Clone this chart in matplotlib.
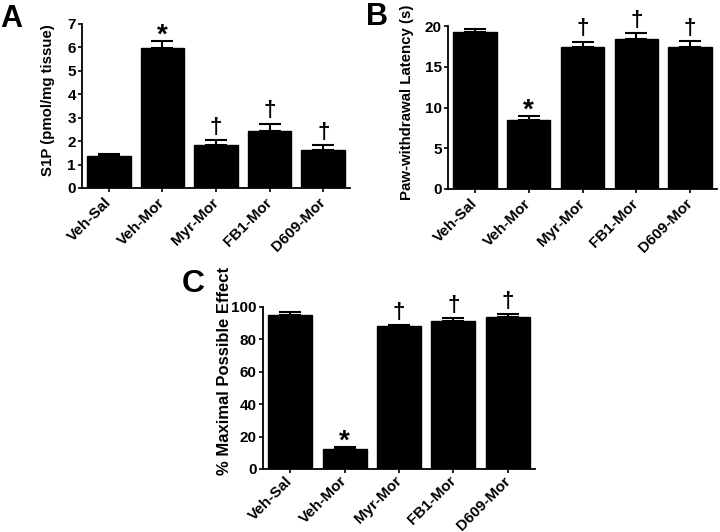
import matplotlib
matplotlib.use("Agg")
import matplotlib.pyplot as plt
import numpy as np

plt.rcParams['font.family'] = ['Liberation Sans', 'DejaVu Sans']
plt.rcParams['font.weight'] = 'bold'
plt.rcParams['font.size'] = 11

# Data
groups = ['Veh-Sal', 'Veh-Mor', 'Myr-Mor', 'FB1-Mor', 'D609-Mor']
marks = ['', '*', '\u2020', '\u2020', '\u2020']

s1p = [1.38, 5.98, 1.85, 2.44, 1.61]
s1p_err = [0.07, 0.29, 0.21, 0.31, 0.21]

latency = [19.27, 8.47, 17.43, 18.45, 17.43]
latency_err = [0.33, 0.45, 0.66, 0.65, 0.74]

mpe = [95.2, 12.3, 88.2, 91.4, 93.8]
mpe_err = [2.0, 1.0, 0.8, 2.0, 1.8]

W, H = 720, 532
fig = plt.figure(figsize=(W / 100, H / 100), dpi=100)


def px_rect(left, right, top, bottom):
    return [left / W, 1 - bottom / H, (right - left) / W, (bottom - top) / H]


def panel(rect, vals, errs, ylim, yticks, ylabel, label_xy, fs_label=10.8,
          fs_tick=11, xpad=6):
    ax = fig.add_axes(rect)
    x = np.arange(len(groups))
    ax.bar(x, vals, width=0.81, color='black', edgecolor='black')
    ax.errorbar(x, vals, yerr=[np.zeros(len(vals)), errs], fmt='none',
                ecolor='black', elinewidth=1.5, capsize=8, capthick=1.5)
    for i, (v, e, m) in enumerate(zip(vals, errs, marks)):
        if m == '*':
            ax.annotate(m, (i, v + e), xytext=(0, -5.5), textcoords='offset points',
                        ha='center', va='bottom', fontsize=20, fontweight='bold',
                        annotation_clip=False)
        elif m:
            ax.annotate(m, (i, v + e), xytext=(0, 1.5), textcoords='offset points',
                        ha='center', va='bottom', fontsize=16, fontweight='bold',
                        annotation_clip=False)
    ax.set_xlim(-0.5, 4.5)
    ax.set_ylim(*ylim)
    ax.set_yticks(yticks)
    ax.set_xticks(x)
    ax.set_xticklabels(groups, rotation=45, ha='right', va='center',
                       rotation_mode='anchor', fontsize=fs_tick)
    ax.set_ylabel(ylabel, fontweight='bold', fontsize=fs_label)
    ax.yaxis.set_label_coords(*label_xy)
    for s in ['top', 'right']:
        ax.spines[s].set_visible(False)
    for s in ['left', 'bottom']:
        ax.spines[s].set_linewidth(1.3)
    ax.tick_params(axis='both', width=1.2, length=3, labelsize=fs_tick)
    ax.tick_params(axis='y', pad=1.5)
    ax.tick_params(axis='x', pad=xpad)
    return ax


panel(px_rect(82, 350, 24, 188), s1p, s1p_err, (0, 7), range(0, 8),
      'S1P (pmol/mg tissue)', (-0.10, 0.537))
panel(px_rect(448, 717, 26, 189), latency, latency_err, (0, 20), range(0, 21, 5),
      'Paw-withdrawal Latency (s)', (-0.125, 0.534))
panel(px_rect(263, 535, 307, 469), mpe, mpe_err, (0, 100), range(0, 101, 20),
      '% Maximal Possible Effect', (-0.114, 0.605), fs_label=12, fs_tick=11,
      xpad=4)

# panel letters
fig.text(0 / W, 1 - 27 / H, 'A', fontsize=22, fontweight='bold', va='baseline')
fig.text(366 / W, 1 - 25 / H, 'B', fontsize=22, fontweight='bold', va='baseline')
fig.text(182 / W, 1 - 292 / H, 'C', fontsize=23, fontweight='bold', va='baseline')

fig.savefig('out.png', dpi=100)
